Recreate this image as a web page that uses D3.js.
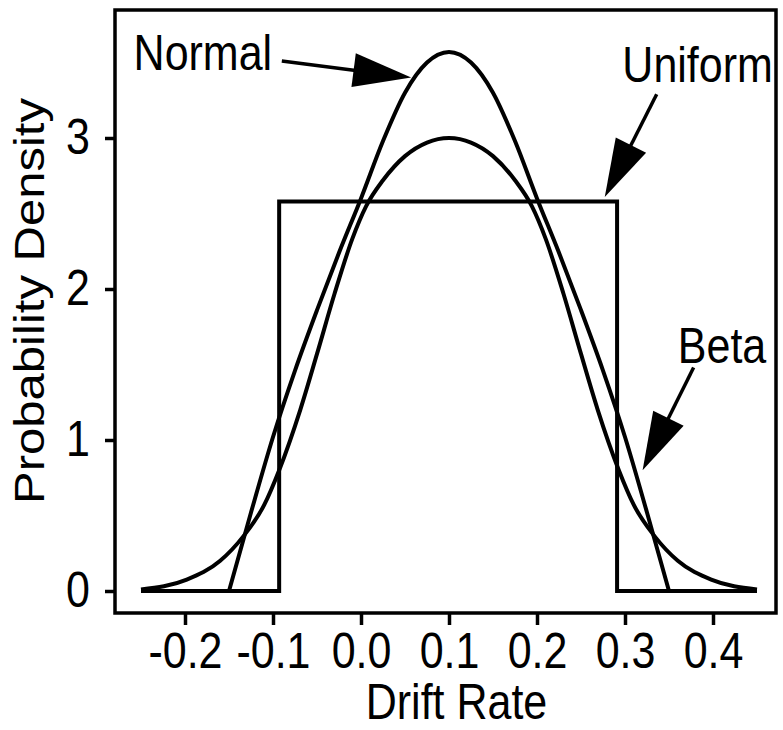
<!DOCTYPE html>
<html>
<head>
<meta charset="utf-8">
<script src="https://cdn.jsdelivr.net/npm/d3@7"></script>
<style>
  html, body { margin: 0; padding: 0; background: #fff; }
  svg { display: block; }
  text { font-family: "Liberation Sans", Arial, Helvetica, sans-serif; fill: #000; }
</style>
</head>
<body>
<svg id="chart" width="783" height="730"></svg>
<script>
// ---- data ----
const xTicks = [-0.2, -0.1, 0.0, 0.1, 0.2, 0.3, 0.4];
const xTickLabels = ["-0.2", "-0.1", "0.0", "0.1", "0.2", "0.3", "0.4"];
const yTicks = [0, 1, 2, 3];
const yTickLabels = ["0", "1", "2", "3"];

// tall curve (arrow labelled "Normal")
const tallX = [-0.15, -0.125, -0.1, -0.075, -0.05, -0.025, 0.0, 0.025, 0.05, 0.075, 0.1,
               0.125, 0.15, 0.175, 0.2, 0.225, 0.25, 0.275, 0.3, 0.325, 0.35];
const tallY = [0, 0.52, 1.02, 1.46, 1.86, 2.24, 2.60, 2.98, 3.30, 3.50, 3.57,
               3.50, 3.30, 2.98, 2.60, 2.24, 1.86, 1.46, 1.02, 0.52, 0];

// wide curve (arrow labelled "Beta")
const wideX = [-0.25, -0.198, -0.16, -0.134, -0.11, -0.093, -0.069, -0.05, -0.03, -0.01, 0.006, 0.025, 0.05, 0.075, 0.1,
               0.125, 0.15, 0.175, 0.194, 0.21, 0.23, 0.25, 0.269, 0.293, 0.31, 0.334, 0.36, 0.398, 0.45];
const wideY = [0.01, 0.075, 0.2, 0.36, 0.57, 0.80, 1.2, 1.57, 1.97, 2.33, 2.55, 2.72, 2.88, 2.97, 3.0,
               2.97, 2.88, 2.72, 2.55, 2.33, 1.97, 1.57, 1.2, 0.80, 0.57, 0.36, 0.2, 0.075, 0.01];

// uniform step
const uniX = [-0.25, -0.093, -0.093, 0.291, 0.291, 0.45];
const uniY = [0, 0, 2.58, 2.58, 0, 0];

// annotations: label, text position, arrow start, arrow tip (data units)
const annLabels = ["Normal", "Uniform", "Beta"];
const annTextX = [-0.101, 0.468, 0.360];
const annTextY = [3.45, 3.37, 1.51];
const annAnchor = ["end", "end", "start"];
const annFromX = [-0.090, 0.336, 0.378];
const annFromY = [3.51, 3.29, 1.48];
const annToX = [0.057, 0.277, 0.320];
const annToY = [3.40, 2.61, 0.80];

// ---- drawing ----
const svg = d3.select("#chart");
const frame = { left: 115, top: 10, right: 776, bottom: 613 };

const x = d3.scaleLinear().domain([-0.2, 0.4]).range([185, 713]);
const y = d3.scaleLinear().domain([0, 3]).range([591, 138]);

const FS = 43;      // font size
const SY = 1.14;    // glyphs in the reference are drawn a little tall

// frame
svg.append("rect")
  .attr("x", frame.left).attr("y", frame.top)
  .attr("width", frame.right - frame.left).attr("height", frame.bottom - frame.top)
  .attr("fill", "none").attr("stroke", "#000").attr("stroke-width", 3.5);

// y axis
const yAxis = d3.axisLeft(y).tickValues(yTicks).tickFormat((d, i) => yTickLabels[i])
  .tickSizeOuter(0).tickSizeInner(10).tickPadding(15);
const gy = svg.append("g").attr("transform", `translate(${frame.left},0)`).call(yAxis);
gy.select(".domain").remove();
gy.selectAll(".tick line").attr("stroke", "#000").attr("stroke-width", 3.5);
gy.selectAll(".tick text").attr("font-size", FS)
  .attr("font-family", "Liberation Sans, Arial, sans-serif")
  .attr("transform", `scale(1,${SY})`);

// x axis
const xAxis = d3.axisBottom(x).tickValues(xTicks).tickFormat((d, i) => xTickLabels[i])
  .tickSizeOuter(0).tickSizeInner(12).tickPadding(6);
const gx = svg.append("g").attr("transform", `translate(0,${frame.bottom})`).call(xAxis);
gx.select(".domain").remove();
gx.selectAll(".tick line").attr("stroke", "#000").attr("stroke-width", 3.5);
gx.selectAll(".tick text").attr("font-size", FS)
  .attr("font-family", "Liberation Sans, Arial, sans-serif")
  .attr("transform", `scale(1,${SY})`);

// axis titles
svg.append("text").attr("transform", `translate(${(frame.left + frame.right) / 2 + 11},719) scale(1,${SY})`)
  .attr("text-anchor", "middle").attr("font-size", FS).text("Drift Rate");
svg.append("text").attr("transform", `translate(44,301) rotate(-90) scale(${SY},1)`)
  .attr("text-anchor", "middle").attr("font-size", FS).text("Probability Density");

// curves
const line = d3.line().x(d => x(d[0])).y(d => y(d[1]));
function draw(xs, ys, curve) {
  svg.append("path")
    .datum(xs.map((v, i) => [v, ys[i]]))
    .attr("d", line.curve(curve))
    .attr("fill", "none").attr("stroke", "#000").attr("stroke-width", 4)
    .attr("stroke-linejoin", "miter");
}
draw(uniX, uniY, d3.curveLinear);
draw(wideX, wideY, d3.curveMonotoneX);
draw(tallX, tallY, d3.curveMonotoneX);

// annotations
annLabels.forEach((lab, i) => {
  svg.append("text")
    .attr("transform", `translate(${x(annTextX[i])},${y(annTextY[i])}) scale(1,${SY})`)
    .attr("text-anchor", annAnchor[i]).attr("font-size", FS).text(lab);
  const x1 = x(annFromX[i]), y1 = y(annFromY[i]);
  const x2 = x(annToX[i]), y2 = y(annToY[i]);
  const dx = x2 - x1, dy = y2 - y1, L = Math.hypot(dx, dy);
  const ux = dx / L, uy = dy / L, px = -uy, py = ux;
  const headLen = 58, headW = 17;
  const bx = x2 - ux * headLen, by = y2 - uy * headLen;
  svg.append("line").attr("x1", x1).attr("y1", y1).attr("x2", bx + ux * 4).attr("y2", by + uy * 4)
    .attr("stroke", "#000").attr("stroke-width", 3.5);
  svg.append("path")
    .attr("d", `M${x2},${y2}L${bx + px * headW},${by + py * headW}L${bx - px * headW},${by - py * headW}Z`)
    .attr("fill", "#000");
});
</script>
</body>
</html>
